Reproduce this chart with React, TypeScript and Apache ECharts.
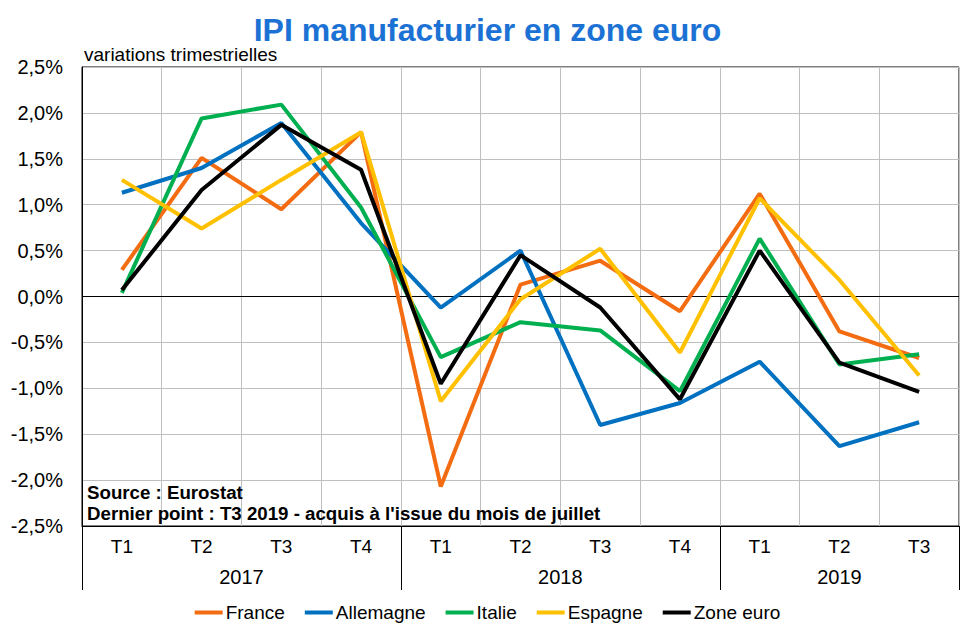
import React, { useEffect, useRef } from "react";
import * as echarts from "echarts";

const quarters = ["T1", "T2", "T3", "T4", "T1", "T2", "T3", "T4", "T1", "T2", "T3"];
const years = ["2017", "2018", "2019"];
const yearCenters = [2, 6, 9.5];
const yearBounds = [0, 4, 8, 11];

const france = [0.29, 1.51, 0.95, 1.79, -2.07, 0.13, 0.39, -0.16, 1.12, -0.38, -0.67];
const allemagne = [1.13, 1.4, 1.89, 0.8, -0.12, 0.5, -1.4, -1.16, -0.71, -1.63, -1.37];
const italie = [0.04, 1.94, 2.09, 0.97, -0.66, -0.28, -0.37, -1.03, 0.63, -0.74, -0.63];
const espagne = [1.27, 0.74, 1.27, 1.79, -1.14, -0.03, 0.52, -0.61, 1.07, 0.18, -0.86];
const zoneEuro = [0.07, 1.16, 1.87, 1.38, -0.95, 0.45, -0.12, -1.12, 0.5, -0.72, -1.04];

const seriesNames = ["France", "Allemagne", "Italie", "Espagne", "Zone euro"];
const seriesColors = ["#F36C12", "#0070C0", "#00B050", "#FFC000", "#000000"];
const seriesData = [france, allemagne, italie, espagne, zoneEuro];

const FONT = "'Liberation Sans', Arial, sans-serif";

export default function App() {
  const ref = useRef<HTMLDivElement>(null);
  useEffect(() => {
    document.body.style.margin = "0";
    if (!ref.current) return;
    const chart = echarts.init(ref.current, undefined, { renderer: "svg" });
    const series: any[] = seriesData.map((d, i) => ({
      name: seriesNames[i],
      type: "line",
      data: d,
      xAxisIndex: 0,
      yAxisIndex: 0,
      symbol: "none",
      lineStyle: { color: seriesColors[i], width: 4 },
      itemStyle: { color: seriesColors[i] },
      z: 3 + i,
      markLine:
        i === 0
          ? {
              silent: true,
              symbol: "none",
              label: { show: false },
              lineStyle: { color: "#000", width: 1, type: "solid" },
              data: [{ yAxis: 0 }],
              z: 2,
            }
          : undefined,
    }));
    chart.setOption({
      animation: false,
      backgroundColor: "#fff",
      textStyle: { fontFamily: FONT },
      title: {
        text: "IPI manufacturier en zone euro",
        left: "center",
        top: 9,
        textStyle: { fontFamily: FONT, fontSize: 32, fontWeight: "bold", color: "#1C72D4" },
      },
      grid: {
        left: 82,
        right: 16,
        top: 67,
        bottom: 109,
        show: true,
        borderColor: "#000",
        borderWidth: 1,
        backgroundColor: "transparent",
      },
      legend: {
        top: 598,
        left: "center",
        icon: "rect",
        itemWidth: 28,
        itemHeight: 4,
        itemGap: 20,
        data: seriesNames,
        textStyle: { fontFamily: FONT, fontSize: 19, color: "#000", padding: [0, 0, 0, -2] },
      },
      xAxis: [
        {
          type: "category",
          data: quarters,
          boundaryGap: true,
          position: "bottom",
          axisLine: { show: true, onZero: false, lineStyle: { color: "#000", width: 1 } },
          axisTick: { show: false },
          axisLabel: { fontFamily: FONT, fontSize: 19, color: "#000", margin: 11, interval: 0 },
          splitLine: { show: true, interval: 0, lineStyle: { color: "#BFBFBF", width: 1 } },
        },
        {
          type: "value",
          min: 0,
          max: 11,
          position: "bottom",
          axisLine: { show: false, onZero: false },
          axisTick: {
            show: true,
            customValues: yearBounds,
            length: 64,
            lineStyle: { color: "#000", width: 1 },
          },
          axisLabel: {
            show: true,
            customValues: yearCenters,
            formatter: (v: number) => {
              const k = yearCenters.indexOf(v);
              return k >= 0 ? years[k] : "";
            },
            fontFamily: FONT,
            fontSize: 20,
            color: "#000",
            margin: 41,
          },
          splitLine: { show: false },
        },
      ],
      yAxis: {
        type: "value",
        min: -2.5,
        max: 2.5,
        interval: 0.5,
        axisLine: { show: true, onZero: false, lineStyle: { color: "#000", width: 1 } },
        axisTick: { show: false },
        axisLabel: {
          fontFamily: FONT,
          fontSize: 20,
          color: "#000",
          margin: 19,
          formatter: (v: number) => v.toFixed(1).replace(".", ",") + "%",
        },
        splitLine: { show: true, lineStyle: { color: "#BFBFBF", width: 1 } },
      },
      graphic: [
        {
          type: "text",
          left: 84,
          top: 45,
          style: { text: "variations trimestrielles", fontFamily: FONT, fontSize: 19, fill: "#000" },
        },
        {
          type: "text",
          left: 87,
          top: 483,
          z: 100,
          style: { text: "Source : Eurostat", fontFamily: FONT, fontSize: 18.7, fontWeight: "bold", fill: "#000" },
        },
        {
          type: "text",
          left: 87,
          top: 504,
          z: 100,
          style: {
            text: "Dernier point : T3 2019 - acquis à l'issue du mois de juillet",
            fontFamily: FONT,
            fontSize: 18.7,
            fontWeight: "bold",
            fill: "#000",
          },
        },
      ],
      series,
    });
    return () => chart.dispose();
  }, []);
  return <div ref={ref} style={{ width: 975, height: 635 }} />;
}
